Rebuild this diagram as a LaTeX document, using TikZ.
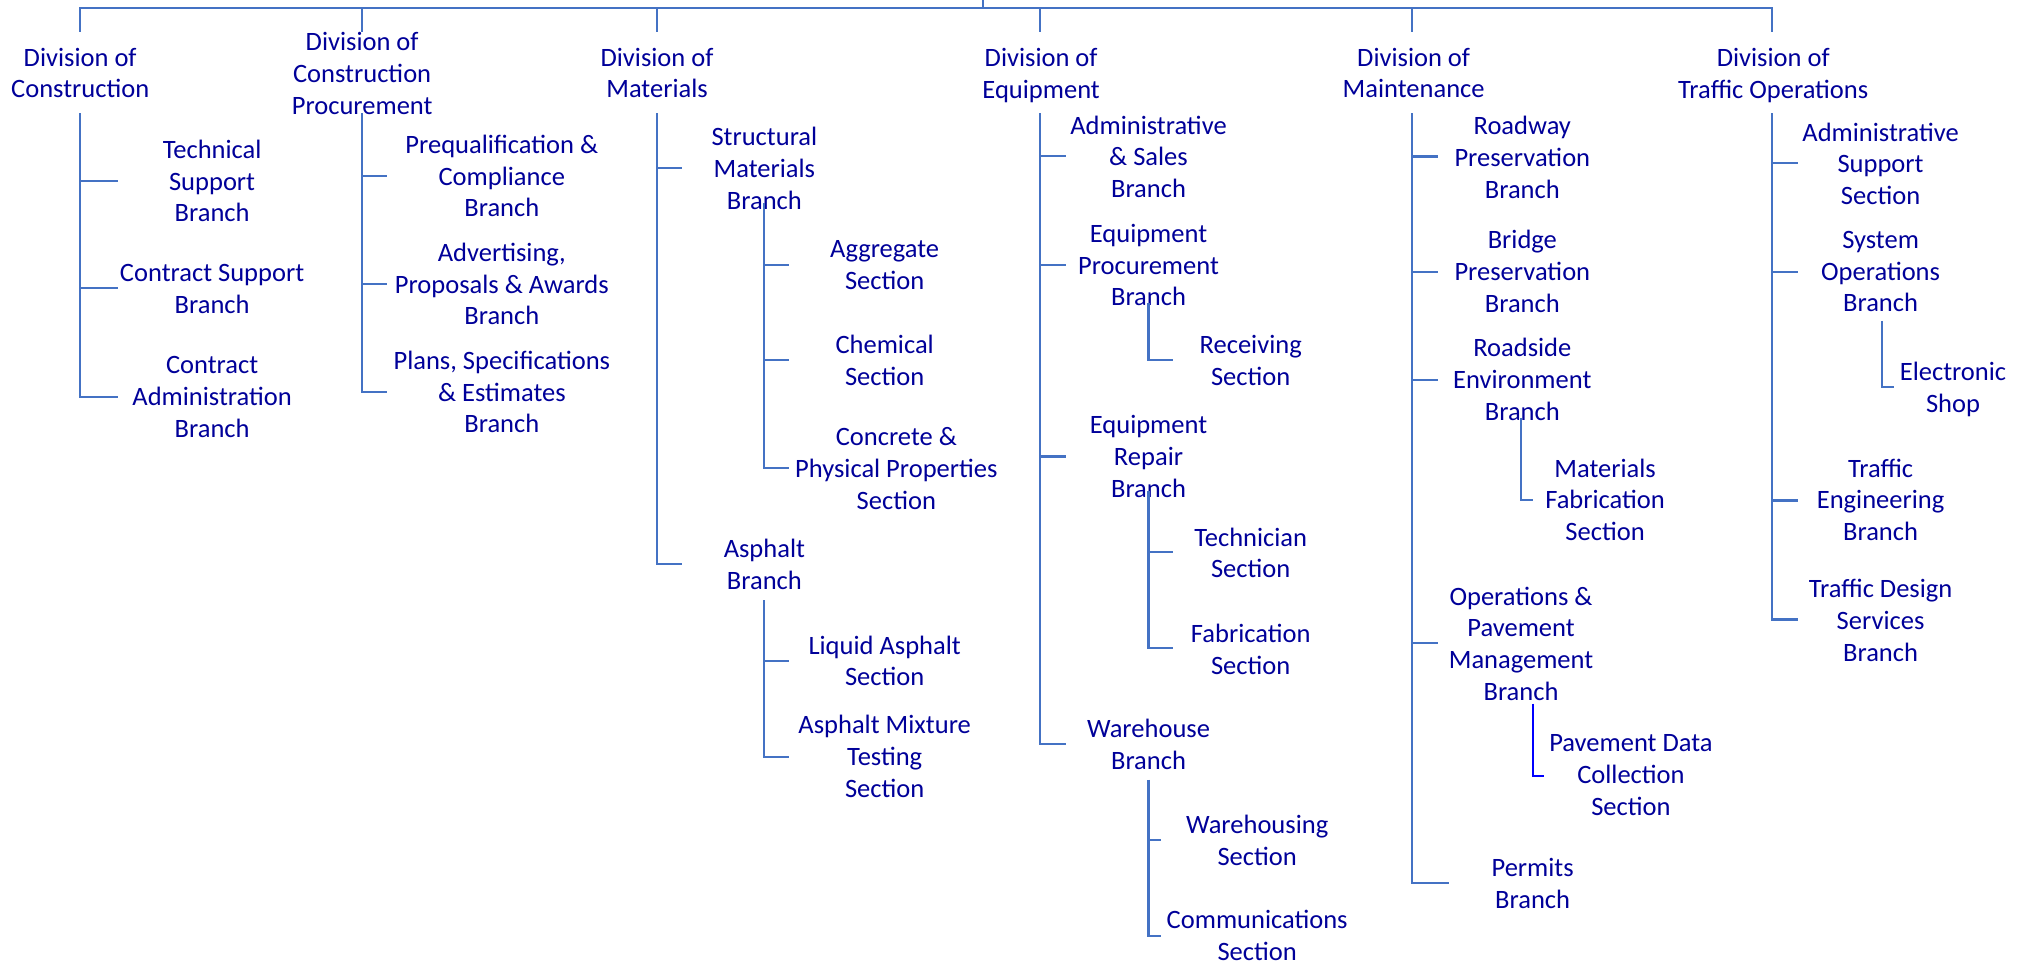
\documentclass[tikz,border=0pt]{standalone}
\usepackage{fontspec}
\setmainfont{Carlito}
\definecolor{tc}{RGB}{0,0,153}
\definecolor{lc}{RGB}{68,114,196}
\begin{document}
\begin{tikzpicture}[x=0.6pt,y=-0.6pt,
  lbl/.style={align=center,inner sep=0pt,text=tc,font=\fontsize{12.3}{14.76}\selectfont},
  ln/.style={draw=lc,line width=1pt},
  lnb/.style={draw=blue,line width=1pt}]
\useasboundingbox (0,0) rectangle (1568,746);

% ---------- top bus ----------
\coordinate (root) at (760,0);
\coordinate (bus) at (760,6.4);
\coordinate (s1) at (62,25);
\coordinate (s2) at (280,25);
\coordinate (s3) at (508,25);
\coordinate (s4) at (804,25);
\coordinate (s5) at (1092,25);
\coordinate (s6) at (1370,25);
\draw[ln] (root) -- (bus);
\foreach \s in {s1,s2,s3,s4,s5,s6} \draw[ln] (bus) -| (\s);

% ---------- divisions ----------
\node[lbl] (d1) at (62,56.4) {Division of\\Construction};
\node[lbl] (d2) at (280,57) {Division of\\Construction\\Procurement};
\node[lbl] (d3) at (508,56.4) {Division of\\Materials};
\node[lbl] (d4) at (805,58.4) {Division of\\Equipment};
\node[lbl] (d5) at (1093,56.4) {Division of\\Maintenance};
\node[lbl] (d6) at (1371,58.2) {Division of\\Traffic Operations};

% ---------- Construction ----------
\coordinate (t1) at (62,87.6);
\node[lbl] (c11) at (164,140) {Technical\\Support\\Branch};
\node[lbl] (c12) at (164,223.5) {Contract Support\\Branch};
\node[lbl] (c13) at (164,306.8) {Contract\\Administration\\Branch};
\coordinate (e11) at (91,140);
\coordinate (e12) at (91,223);
\coordinate (e13) at (91,306.7);
\foreach \e in {e11,e12,e13} \draw[ln] (t1) |- (\e);

% ---------- Construction Procurement ----------
\coordinate (t2) at (280,87.6);
\node[lbl] (c21) at (388,136) {Prequalification \&\\Compliance\\Branch};
\node[lbl] (c22) at (388,219.5) {Advertising,\\Proposals \& Awards\\Branch};
\node[lbl] (c23) at (388,303) {Plans, Specifications\\\& Estimates\\Branch};
\coordinate (e21) at (299,135.8);
\coordinate (e22) at (299,219.6);
\coordinate (e23) at (299,303);
\foreach \e in {e21,e22,e23} \draw[ln] (t2) |- (\e);

% ---------- Materials ----------
\coordinate (t3) at (508,87.6);
\node[lbl] (c31) at (591,130.2) {Structural\\Materials\\Branch};
\node[lbl] (c32) at (591,436.3) {Asphalt\\Branch};
\coordinate (e31) at (527,130);
\coordinate (e32) at (527,436);
\foreach \e in {e31,e32} \draw[ln] (t3) |- (\e);

\coordinate (u31) at (591,157);
\node[lbl] (c311) at (684,204.8) {Aggregate\\Section};
\node[lbl] (c312) at (684,278.5) {Chemical\\Section};
\node[lbl] (c313) at (693,362.3) {Concrete \&\\Physical Properties\\Section};
\coordinate (e311) at (610,205);
\coordinate (e312) at (610,278.5);
\coordinate (e313) at (610,362);
\foreach \e in {e311,e312,e313} \draw[ln] (u31) |- (\e);

\coordinate (u32) at (591,464);
\node[lbl] (c321) at (684,511) {Liquid Asphalt\\Section};
\node[lbl] (c322) at (684,585) {Asphalt Mixture\\Testing\\Section};
\coordinate (e321) at (610,511);
\coordinate (e322) at (610,585);
\foreach \e in {e321,e322} \draw[ln] (u32) |- (\e);

% ---------- Equipment ----------
\coordinate (t4) at (804,87.6);
\node[lbl] (c41) at (888,121.2) {Administrative\\\& Sales\\Branch};
\node[lbl] (c42) at (888,205) {Equipment\\Procurement\\Branch};
\node[lbl] (c43) at (888,353) {Equipment\\Repair\\Branch};
\node[lbl] (c44) at (888,575.3) {Warehouse\\Branch};
\coordinate (e41) at (824,120.6);
\coordinate (e42) at (824,205);
\coordinate (e43) at (824,353);
\coordinate (e44) at (824,575);
\foreach \e in {e41,e42,e43,e44} \draw[ln] (t4) |- (\e);

\coordinate (u42) at (888,234.6);
\node[lbl] (c421) at (967,279) {Receiving\\Section};
\coordinate (e421) at (907,278.4);
\draw[ln] (u42) |- (e421);

\coordinate (u43) at (888,380);
\node[lbl] (c431) at (967,427.5) {Technician\\Section};
\node[lbl] (c432) at (967,501.8) {Fabrication\\Section};
\coordinate (e431) at (907,427);
\coordinate (e432) at (907,501);
\foreach \e in {e431,e432} \draw[ln] (u43) |- (\e);

\coordinate (u44) at (888,603);
\node[lbl] (c441) at (972,650) {Warehousing\\Section};
\node[lbl] (c442) at (972,723.3) {Communications\\Section};
\coordinate (e441) at (898,649.5);
\coordinate (e442) at (898,724);
\foreach \e in {e441,e442} \draw[ln] (u44) |- (\e);

% ---------- Maintenance ----------
\coordinate (t5) at (1092,87.6);
\node[lbl] (c51) at (1177,121.5) {Roadway\\Preservation\\Branch};
\node[lbl] (c52) at (1177,210) {Bridge\\Preservation\\Branch};
\node[lbl] (c53) at (1177,293.5) {Roadside\\Environment\\Branch};
\node[lbl] (c54) at (1176,497.7) {Operations \&\\Pavement\\Management\\Branch};
\node[lbl] (c55) at (1185,683) {Permits\\Branch};
\coordinate (e51) at (1112,121);
\coordinate (e52) at (1112,210);
\coordinate (e53) at (1112,293.6);
\coordinate (e54) at (1112,497);
\coordinate (e55) at (1120,683);
\foreach \e in {e51,e52,e53,e54,e55} \draw[ln] (t5) |- (\e);

\coordinate (u53) at (1176,323);
\node[lbl] (c531) at (1241,386.5) {Materials\\Fabrication\\Section};
\coordinate (e531) at (1185,386.6);
\draw[ln] (u53) |- (e531);

\coordinate (u54) at (1185,544);
\node[lbl] (c541) at (1261,599.4) {Pavement Data\\Collection\\Section};
\coordinate (e541) at (1194,600);
\draw[lnb] (u54) |- (e541);

% ---------- Traffic Operations ----------
\coordinate (t6) at (1370,87.6);
\node[lbl] (c61) at (1454,126.7) {Administrative\\Support\\Section};
\node[lbl] (c62) at (1454,210) {System\\Operations\\Branch};
\node[lbl] (c63) at (1454,386.5) {Traffic\\Engineering\\Branch};
\node[lbl] (c64) at (1454,479.6) {Traffic Design\\Services\\Branch};
\coordinate (e61) at (1390,126);
\coordinate (e62) at (1390,210);
\coordinate (e63) at (1390,387);
\coordinate (e64) at (1390,479);
\foreach \e in {e61,e62,e63,e64} \draw[ln] (t6) |- (\e);

\coordinate (u62) at (1455,248);
\node[lbl] (c621) at (1510,301) {Electronic\\Shop};
\coordinate (e621) at (1464,299);
\draw[ln] (u62) |- (e621);
\end{tikzpicture}
\end{document}
